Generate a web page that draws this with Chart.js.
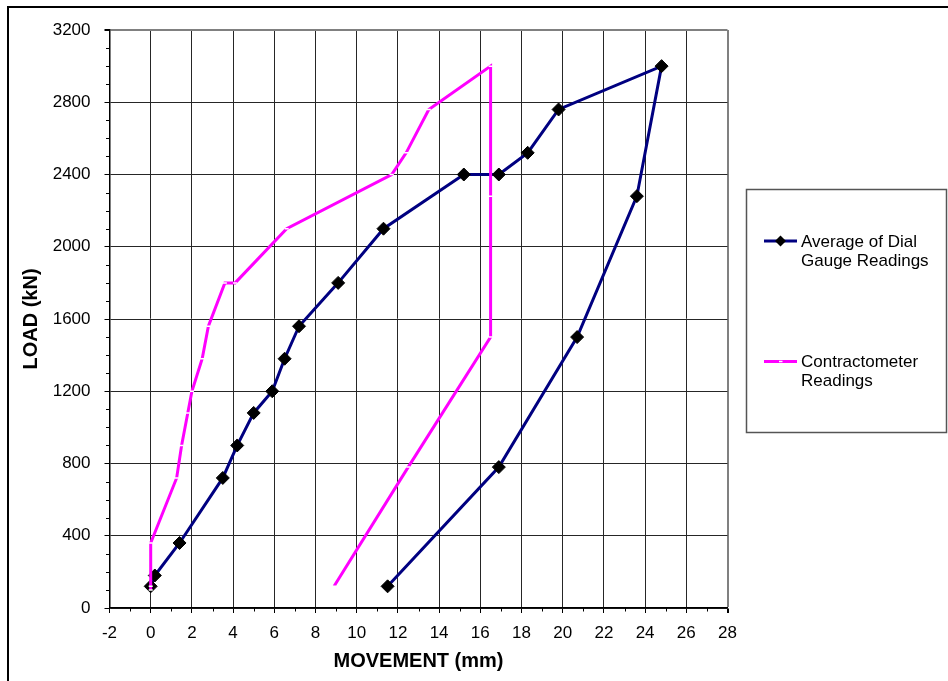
<!DOCTYPE html>
<html>
<head>
<meta charset="utf-8">
<title>Load vs Movement</title>
<script src="https://cdn.jsdelivr.net/npm/chart.js@4/dist/chart.umd.min.js"></script>
<style>
  html, body { margin: 0; padding: 0; background: #fff; }
  #wrap { width: 948px; height: 681px; position: relative; }
</style>
</head>
<body>
<div id="wrap"><canvas id="chart" width="948" height="681"></canvas></div>
<script>
// Load test readings: movement (mm) against applied load (kN)
const dialMovement = [0, 0.2, 1.4, 3.5, 4.2, 5.0, 5.9, 6.5, 7.2, 9.1, 11.3, 15.2, 16.9, 18.3, 19.8, 24.8, 23.6, 20.7, 16.9, 11.5];
const dialLoad     = [120, 180, 360, 720, 900, 1080, 1200, 1380, 1560, 1800, 2100, 2400, 2400, 2520, 2760, 3000, 2280, 1500, 780, 120];

const contractMovement = [0, 0, 0, 1.26, 1.5, 1.8, 2.0, 2.5, 2.8, 3.6, 4.1, 6.6, 11.7, 12.4, 13.5, 16.5, 16.5, 16.5, 12.5, 8.9];
const contractLoad     = [100, 120, 360, 720, 900, 1080, 1200, 1380, 1560, 1800, 1800, 2100, 2400, 2520, 2760, 3000, 2280, 1500, 780, 120];

const seriesNames = ['Average of Dial\nGauge Readings', 'Contractometer\nReadings'];
const xTitle = 'MOVEMENT (mm)';
const yTitle = 'LOAD (kN)';

const toPoints = (xs, ys) => xs.map((x, i) => ({ x: x, y: ys[i] }));

const NAVY = '#000080';
const MAGENTA = '#FF00FF';
const FONT = '"Liberation Sans", Arial, sans-serif';

// Outer frame, minor tick marks and the boxed legend
const decorations = {
  id: 'decorations',
  afterDraw(chart) {
    const ctx = chart.ctx;
    const xs = chart.scales.x, ys = chart.scales.y;
    const area = chart.chartArea;
    ctx.save();

    // minor ticks
    ctx.strokeStyle = '#000';
    ctx.lineWidth = 1;
    ctx.beginPath();
    for (let v = 100; v < 3200; v += 100) {
      if (v % 400 === 0) continue;
      const py = Math.round(ys.getPixelForValue(v)) + 0.5;
      ctx.moveTo(area.left - 3.5, py);
      ctx.lineTo(area.left, py);
    }
    for (let v = -1; v < 28; v += 2) {
      const px = Math.round(xs.getPixelForValue(v)) + 0.5;
      ctx.moveTo(px, area.bottom);
      ctx.lineTo(px, area.bottom + 3.5);
    }
    ctx.stroke();

    // outer frame
    ctx.lineWidth = 2;
    ctx.strokeStyle = '#000';
    ctx.strokeRect(8, 7, 2000, 2000);

    // legend box
    ctx.lineWidth = 1.5;
    ctx.strokeStyle = '#555';
    ctx.fillStyle = '#fff';
    ctx.fillRect(746.5, 189.5, 200, 243);
    ctx.strokeRect(746.5, 189.5, 200, 243);

    const entries = [
      { y: 241, color: NAVY, marker: 'diamond', text: seriesNames[0] },
      { y: 361.5, color: MAGENTA, marker: 'dash', text: seriesNames[1] }
    ];
    entries.forEach(e => {
      ctx.strokeStyle = e.color;
      ctx.lineWidth = 3;
      ctx.beginPath();
      ctx.moveTo(764, e.y);
      ctx.lineTo(797, e.y);
      ctx.stroke();
      if (e.marker === 'diamond') {
        ctx.fillStyle = '#000';
        ctx.beginPath();
        ctx.moveTo(780.5, e.y - 5.5);
        ctx.lineTo(786, e.y);
        ctx.lineTo(780.5, e.y + 5.5);
        ctx.lineTo(775, e.y);
        ctx.closePath();
        ctx.fill();
      } else {
        ctx.strokeStyle = '#fff';
        ctx.lineWidth = 1.5;
        ctx.beginPath();
        ctx.moveTo(779, e.y);
        ctx.lineTo(782.5, e.y);
        ctx.stroke();
      }
      ctx.fillStyle = '#000';
      ctx.font = '17px ' + FONT;
      ctx.textAlign = 'left';
      ctx.textBaseline = 'middle';
      e.text.split('\n').forEach((line, i) => {
        ctx.fillText(line, 801, e.y + 1 + i * 19);
      });
    });
    ctx.restore();
  }
};

new Chart(document.getElementById('chart'), {
  type: 'scatter',
  data: {
    datasets: [
      {
        label: seriesNames[0].replace('\n', ' '),
        data: toPoints(dialMovement, dialLoad),
        showLine: true,
        tension: 0,
        borderColor: NAVY,
        borderWidth: 3,
        pointStyle: 'rectRot',
        pointRadius: 6.5,
        pointBackgroundColor: '#000',
        pointBorderColor: '#000',
        pointBorderWidth: 1,
        order: 1
      },
      {
        label: seriesNames[1].replace('\n', ' '),
        data: toPoints(contractMovement, contractLoad),
        showLine: true,
        tension: 0,
        borderColor: MAGENTA,
        borderWidth: 3,
        pointStyle: 'line',
        pointRadius: 2,
        pointBorderColor: '#fff',
        pointBackgroundColor: '#fff',
        pointBorderWidth: 1.5,
        order: 0
      }
    ]
  },
  options: {
    responsive: false,
    animation: false,
    events: [],
    layout: { padding: { left: 0, top: 30, right: 220.5, bottom: 0 } },
    plugins: {
      legend: { display: false },
      tooltip: { enabled: false }
    },
    scales: {
      x: {
        type: 'linear',
        min: -2,
        max: 28,
        afterFit(scale) { scale.height = 73; },
        ticks: {
          stepSize: 2,
          color: '#000',
          padding: 10,
          maxRotation: 0,
          callback: v => String(v),
          font: { family: FONT, size: 17 }
        },
        grid: {
          color: c => (c.tick && c.tick.value === 28) ? '#808080' : '#262626',
          lineWidth: c => (c.tick && c.tick.value === 28) ? 2 : 1,
          tickColor: '#000',
          tickLength: 5
        },
        border: { color: '#000', width: 1.5 },
        title: {
          display: true,
          text: xTitle,
          color: '#000',
          font: { family: FONT, size: 20, weight: 'bold' },
          padding: { top: 0, bottom: 8 }
        }
      },
      y: {
        type: 'linear',
        min: 0,
        max: 3200,
        afterFit(scale) { scale.width = 109.5; },
        ticks: {
          stepSize: 400,
          color: '#000',
          padding: 14,
          callback: v => String(v),
          font: { family: FONT, size: 17 }
        },
        grid: {
          color: c => (c.tick && c.tick.value === 3200) ? '#808080' : '#262626',
          lineWidth: c => (c.tick && c.tick.value === 3200) ? 2 : 1,
          tickColor: '#000',
          tickLength: 5
        },
        border: { color: '#000', width: 1.5 },
        title: {
          display: true,
          text: yTitle,
          color: '#000',
          font: { family: FONT, size: 20, weight: 'bold' },
          padding: { top: 19, bottom: 0 }
        }
      }
    }
  },
  plugins: [decorations]
});
</script>
</body>
</html>
